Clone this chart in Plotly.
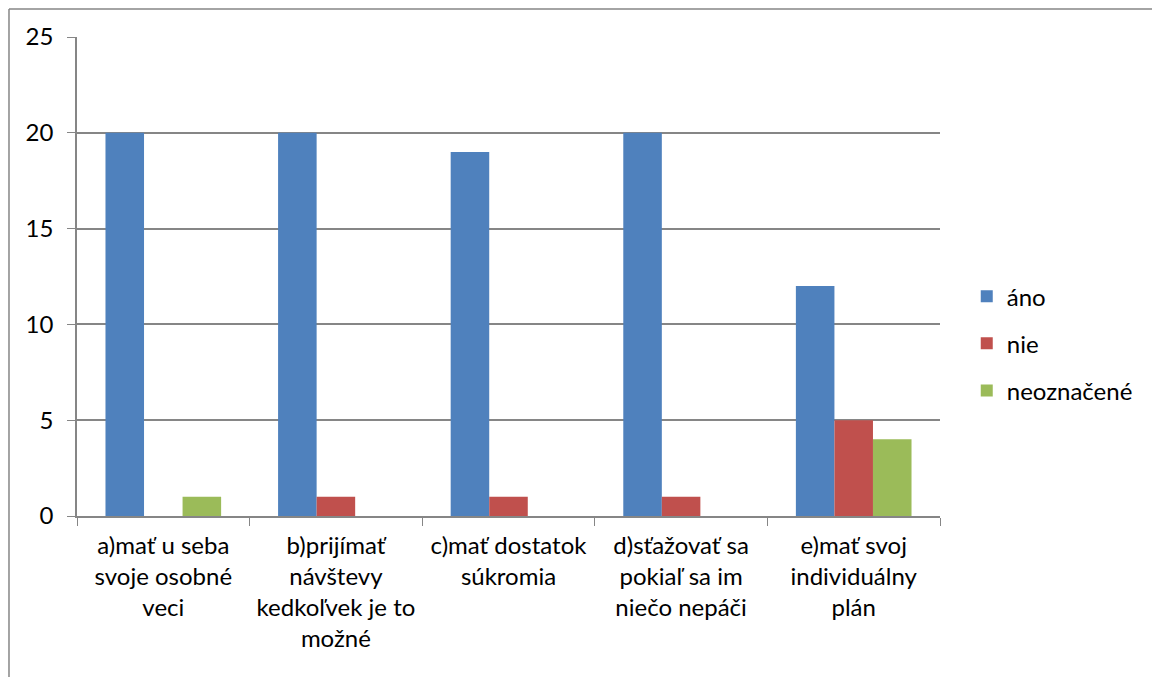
import plotly.graph_objects as go

categories = [
    "a)mať u seba<br>svoje osobné<br>veci",
    "b)prijímať<br>návštevy<br>kedkoľvek je to<br>možné",
    "c)mať dostatok<br>súkromia",
    "d)sťažovať sa<br>pokiaľ sa im<br>niečo nepáči",
    "e)mať svoj<br>individuálny<br>plán",
]
ano = [20, 20, 19, 20, 12]
nie = [0, 1, 1, 1, 5]
neoznacene = [1, 0, 0, 0, 4]

series = [
    ("áno", ano, "#4F81BD"),
    ("nie", nie, "#C0504D"),
    ("neoznačené", neoznacene, "#9BBB59"),
]

font = "Lato, Carlito, Calibri, sans-serif"
grid = "#868686"

fig = go.Figure()
for name, values, color in series:
    fig.add_trace(
        go.Bar(
            x=categories,
            y=values,
            name=name,
            legendgroup=name,
            marker={"color": color, "line": {"width": 0}},
        )
    )

# chart frame: only the top and left edges are inside the picture
frame = {"color": grid, "width": 1.5}

fig.update_layout(
    width=1152,
    height=677,
    margin={"l": 77, "r": 212, "t": 37, "b": 161},
    paper_bgcolor="white",
    plot_bgcolor="white",
    barmode="group",
    bargap=0.33,
    bargroupgap=0,
    font={"family": font, "size": 24, "color": "black"},
    legend={
        "x": 1.031,
        "xanchor": "left",
        "y": 0.36,
        "yanchor": "middle",
        "traceorder": "grouped",
        "tracegroupgap": 13,
        "font": {"size": 24},
    },
    xaxis={
        "tickson": "boundaries",
        "ticks": "outside",
        "ticklen": 8,
        "tickcolor": grid,
        "showline": True,
        "linecolor": grid,
        "linewidth": 1.5,
        "showgrid": False,
        "tickangle": 0,
        "ticklabelstandoff": 7,
    },
    yaxis={
        "range": [0, 25],
        "dtick": 5,
        "ticks": "outside",
        "ticklen": 8,
        "tickcolor": grid,
        "showline": True,
        "linecolor": grid,
        "linewidth": 1.5,
        "gridcolor": grid,
        "gridwidth": 1.5,
        "zeroline": False,
        "ticklabelstandoff": 9,
    },
    shapes=[
        {"type": "line", "xref": "paper", "yref": "paper",
         "x0": -0.0788, "x1": 1.5, "y0": 1.0585, "y1": 1.0585, "line": frame},
        {"type": "line", "xref": "paper", "yref": "paper",
         "x0": -0.0788, "x1": -0.0788, "y0": -0.5, "y1": 1.0585, "line": frame},
    ],
)

# drop the default 8px body margin so the figure fills the window
fig.write_html(
    "out.html",
    config={"displayModeBar": False},
    post_script="document.body.style.margin='0';document.body.style.overflow='hidden';",
)
